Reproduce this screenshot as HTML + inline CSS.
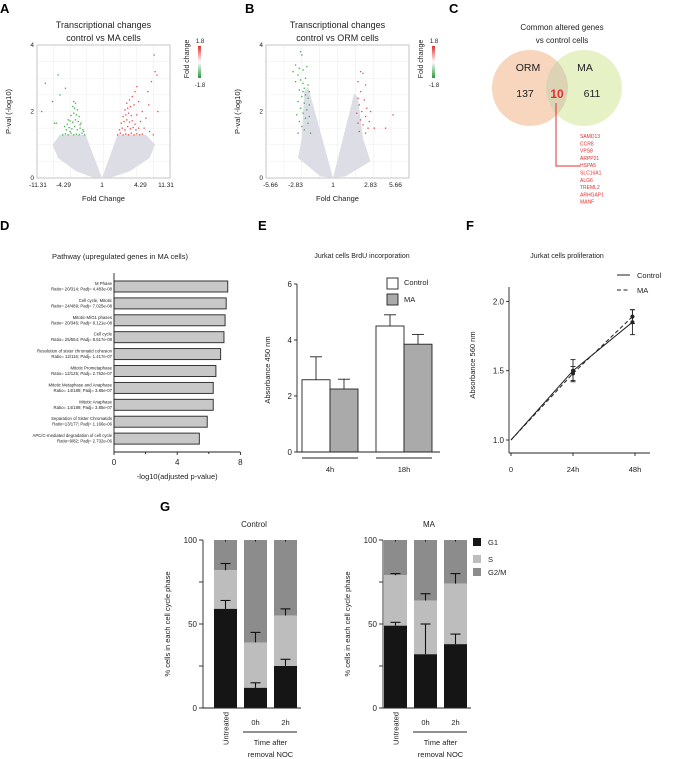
<!DOCTYPE html>
<html><head><meta charset="utf-8">
<style>
html,body{margin:0;padding:0;background:#fff;}
svg{display:block;font-family:"Liberation Sans",Arial,sans-serif;}
</style></head>
<body>
<svg id="fig" width="673" height="759" viewBox="0 0 673 759" xmlns="http://www.w3.org/2000/svg">
<defs>
<linearGradient id="cbar" x1="0" y1="0" x2="0" y2="1">
<stop offset="0" stop-color="#e03030"/><stop offset="0.5" stop-color="#ffffff"/><stop offset="1" stop-color="#2a9a3a"/>
</linearGradient>
</defs>
<g id="panelA"></g>
<g id="panelB"></g>
<g id="panelC"></g>
<g id="panelD"></g>
<g id="panelE"></g>
<g id="panelF"></g>
<g id="panelG"></g>
</svg>
<script>
// ---------- DATA ----------
const volTicksA = ["-11.31","-4.29","1","4.29","11.31"];
const volTickValsA = [-3.5,-2.1,0,2.1,3.5];
const volTicksB = ["-5.66","-2.83","1","2.83","5.66"];
const volTickValsB = [-2.5,-1.5,0,1.5,2.5];
const volAGreen = [[-0.95,1.3],[-1.1,1.35],[-1.25,1.3],[-1.4,1.32],[-1.55,1.3],[-1.7,1.35],[-1.85,1.3],[-2.0,1.33],[-2.15,1.3],[-1.05,1.45],[-1.2,1.5],[-1.35,1.45],[-1.5,1.55],[-1.65,1.48],[-1.8,1.52],[-1.95,1.45],[-1.15,1.65],[-1.3,1.7],[-1.45,1.75],[-1.6,1.68],[-1.75,1.72],[-1.9,1.62],[-1.25,1.85],[-1.4,1.9],[-1.55,1.95],[-1.7,1.88],[-1.35,2.05],[-1.5,2.1],[-1.6,2.15],[-1.45,2.25],[-1.55,2.3],[-1.0,1.4],[-1.2,1.6],[-1.75,1.4],[-2.05,1.55],[-1.85,1.75],[-2.6,1.65],[-2.7,2.3],[-2.0,2.7],[-2.4,3.1],[-2.3,2.5],[-3.1,2.85],[-3.3,2.0],[-2.5,1.65]];
const volARed = [[0.85,1.3],[1.0,1.35],[1.15,1.3],[1.3,1.32],[1.45,1.3],[1.6,1.35],[1.75,1.3],[1.9,1.33],[2.05,1.3],[2.2,1.32],[0.95,1.45],[1.1,1.5],[1.25,1.45],[1.4,1.55],[1.55,1.48],[1.7,1.52],[1.85,1.45],[2.0,1.5],[1.05,1.65],[1.2,1.7],[1.35,1.75],[1.5,1.68],[1.65,1.72],[1.8,1.62],[2.1,1.7],[1.15,1.85],[1.3,1.9],[1.45,1.95],[1.6,1.88],[1.9,1.9],[1.25,2.05],[1.4,2.1],[1.55,2.15],[1.75,2.2],[1.35,2.25],[1.5,2.35],[1.65,2.45],[2.0,2.3],[1.8,2.6],[1.9,2.75],[2.2,2.0],[2.4,1.8],[2.5,2.6],[2.3,1.5],[2.6,1.4],[2.85,3.7],[2.9,3.2],[3.0,3.1],[3.05,2.0],[2.8,1.3],[2.7,2.9],[2.55,2.2]];
const volBGreen = [[-1.3,3.8],[-1.25,3.7],[-1.5,3.4],[-1.35,3.3],[-1.2,3.25],[-1.4,3.1],[-1.1,3.0],[-1.3,2.95],[-1.5,2.9],[-1.2,2.85],[-1.0,2.8],[-1.15,2.7],[-1.35,2.65],[-0.95,2.6],[-1.1,2.5],[-1.25,2.45],[-1.0,2.4],[-1.4,2.3],[-1.15,2.25],[-0.95,2.2],[-1.3,2.1],[-1.05,2.05],[-1.2,1.95],[-1.45,1.9],[-0.95,1.85],[-1.1,1.8],[-1.35,1.7],[-1.0,1.65],[-1.25,1.55],[-1.15,1.45],[-1.4,1.35],[-0.9,1.35],[-1.6,3.2],[-1.05,3.35],[-1.2,2.6]];
const volBRed = [[1.1,3.2],[1.2,3.15],[1.0,2.9],[1.3,2.8],[1.1,2.6],[1.0,2.4],[1.25,2.35],[1.05,2.2],[1.35,2.1],[1.15,2.0],[0.95,1.95],[1.3,1.85],[1.1,1.75],[1.45,1.7],[1.0,1.65],[1.2,1.6],[1.4,1.5],[1.05,1.4],[1.3,1.35],[1.5,2.0],[2.4,1.9],[2.1,1.5],[1.65,1.5]];
const grayALeft = [[0,0],[-0.9,1.3],[-2.3,1.3],[-2.7,1.0],[-2.4,0.6],[-1.4,0.2],[-0.5,0.02]];
const grayARight = [[0,0],[0.85,1.3],[2.4,1.3],[2.9,1.0],[2.6,0.6],[1.5,0.2],[0.5,0.02]];
const grayBLeft = [[0,0],[-1.0,2.75],[-1.15,2.6],[-1.25,1.2],[-1.4,0.6],[-0.5,0.05]];
const grayBRight = [[0,0],[0.85,2.55],[1.0,2.4],[1.2,1.2],[1.5,0.5],[0.5,0.05]];

const vennLabels = ["ORM","MA"];
const vennCounts = [137,10,611];
const commonGenes = ["SAMD13","CCR8","VPS8","ARPP21","HSPA5","SLC16A1","ALG6","TREML2","ARHGAP1","MANF"];

const pathNames = ["M Phase","Cell cycle, Mitotic","Mitotic-M/G1 phases","Cell cycle","Resolution of sister chromatid cohesion","Mitotic Prometaphase","Mitotic Metaphase and Anaphase","Mitotic Anaphase","Separation of Sister Chromatids","APC/C-mediated degradation of cell cycle"];
const pathStats = ["Ratio= 20/314; Padj= 4.483e-08","Ratio= 24/489; Padj= 7.025e-08","Ratio= 20/346; Padj= 8.121e-08","Ratio= 25/554; Padj= 8.517e-08","Ratio= 12/116; Padj= 1.417e-07","Ratio= 12/125; Padj= 2.762e-07","Ratio= 14/189; Padj= 3.85e-07","Ratio= 14/189; Padj= 3.85e-07","Ratio=13/177; Padj= 1.166e-06","Ratio=9/82; Padj= 2.732e-06"];
const pathValues = [7.2,7.1,7.03,6.96,6.75,6.45,6.28,6.28,5.9,5.4];
const pathTicks = [0,4,8];

const brduGroups = ["4h","18h"];
const brduControl = [2.58,4.5];
const brduControlErr = [0.82,0.4];
const brduMA = [2.25,3.85];
const brduMAErr = [0.35,0.35];
const brduTicks = [0,2,4,6];

const profTimes = [0,24,47];
const profTickLabels = ["0","24h","48h"];
const profTickVals = [0,24,48];
const profControl = [1.0,1.50,1.85];
const profControlErr = [0,0.08,0.09];
const profMA = [1.0,1.48,1.89];
const profMAErr = [0,0.05,0.05];
const profTicks = [1.0,1.5,2.0];

const ccCategories = ["Untreated","0h","2h"];
const ccControlG1 = [59,12,25];
const ccControlG1Err = [5,3,4];
const ccControlS = [23,27,30];
const ccControlSErr = [4,6,4];
const ccMAG1 = [49,32,38];
const ccMAG1Err = [2,18,6];
const ccMAS = [30,32,36];
const ccMASErr = [1,4,6];
const ccTicks = [0,25,50,75,100];

// ---------- HELPERS ----------
const NS = "http://www.w3.org/2000/svg";
function mk(tag, attrs, parent){
  const el = document.createElementNS(NS, tag);
  for (const k in attrs) el.setAttribute(k, attrs[k]);
  parent.appendChild(el);
  return el;
}
function txt(parent, x, y, s, size, anchor, extra){
  const a = {x:x, y:y, 'font-size':size, 'text-anchor':anchor||'middle', fill:'#222'};
  if (extra) for (const k in extra) a[k]=extra[k];
  const t = mk('text', a, parent);
  t.textContent = s;
  return t;
}
const svg = document.getElementById('fig');
function letter(s,x,y){
  const t = txt(svg, x, y, s, 13, 'start', {'font-weight':'bold', fill:'#000'});
  
  
}
letter('A',0,13); letter('B',245,13); letter('C',449,13);
letter('D',0,230); letter('E',258,230); letter('F',466,230); letter('G',160,511);

// ---------- VOLCANO ----------
function volcano(g, cfg){
  const x = v => cfg.x0 + v*cfg.sx;
  const y = p => cfg.yb - p*(cfg.yb-cfg.yt)/4;
  for (let i=0;i<=8;i++){
    const gx = cfg.left + (cfg.right-cfg.left)*i/8;
    mk('line',{x1:gx,y1:cfg.yt,x2:gx,y2:cfg.yb,stroke:'#eeeeee','stroke-width':0.6},g);
    const gy = cfg.yt + (cfg.yb-cfg.yt)*i/8;
    mk('line',{x1:cfg.left,y1:gy,x2:cfg.right,y2:gy,stroke:'#eeeeee','stroke-width':0.6},g);
  }
  const box = mk('rect',{x:cfg.left,y:cfg.yt,width:cfg.right-cfg.left,height:cfg.yb-cfg.yt,fill:'none',stroke:'#bbbbbb','stroke-width':0.8},g);
  
  
  [cfg.grayL, cfg.grayR].forEach((poly,i)=>{
    const p = mk('polygon',{points:poly.map(d=>x(d[0])+','+y(d[1])).join(' '),fill:'#dcdde5'},g);
    
    
  });
  cfg.green.forEach(d=>{
    const c = mk('rect',{x:x(d[0])-0.6,y:y(d[1])-0.6,width:1.3,height:1.3,fill:'#3aaa48'},g);
    
    
  });
  cfg.red.forEach(d=>{
    const c = mk('rect',{x:x(d[0])-0.6,y:y(d[1])-0.6,width:1.3,height:1.3,fill:'#ee4444'},g);
    
    
  });
  cfg.ticks.forEach((s,i)=>{
    const t = txt(g, x(cfg.tickVals[i]), cfg.yb+9, s, 6.5);
    
    
  });
  [0,2,4].forEach(v=>{
    const t = txt(g, cfg.left-3, y(v)+2, String(v), 6.5, 'end');
    
    
  });
  const xt = txt(g,(cfg.left+cfg.right)/2, cfg.yb+23, 'Fold Change', 7.5);
  
  
  const yt = txt(g, 0,0,'P-val (-log10)',7.5,'middle',{transform:'translate('+(cfg.left-26)+','+((cfg.yt+cfg.yb)/2)+') rotate(-90)'});
  
  
  const t1 = txt(g,(cfg.left+cfg.right)/2,28,'Transcriptional changes',9);
  
  
  const t2 = txt(g,(cfg.left+cfg.right)/2,41,cfg.title2,9);
  
  
  const cb = mk('rect',{x:cfg.cbx,y:46,width:3,height:32,fill:'url(#cbar)'},g);
  
  
  txt(g,cfg.cbx+2,43,'1.8',6);
  txt(g,cfg.cbx+2,87,'-1.8',6);
  const cl = txt(g,0,0,'Fold change',7,'middle',{transform:'translate('+(cfg.cbx-9)+',59) rotate(-90)'});
  
  
}
volcano(document.getElementById('panelA'),{left:37,right:170,yt:45,yb:178,x0:102,sx:18.3,grayL:grayALeft,grayR:grayARight,green:volAGreen,red:volARed,ticks:volTicksA,tickVals:volTickValsA,title2:'control vs MA cells',cbx:198});
volcano(document.getElementById('panelB'),{left:266,right:409,yt:45,yb:178,x0:333,sx:25,grayL:grayBLeft,grayR:grayBRight,green:volBGreen,red:volBRed,ticks:volTicksB,tickVals:volTickValsB,title2:'control vs ORM cells',cbx:432});

// ---------- VENN ----------
(function(){
  const g = document.getElementById('panelC');
  const t1 = txt(g,562,30,'Common altered genes',8);
  
  
  txt(g,562,43,'vs control cells',8);
  const c1 = mk('circle',{cx:530,cy:88,r:38,fill:'#f7d6bd'},g);
  
  
  const c2 = mk('circle',{cx:584,cy:88,r:38,fill:'#e6f2c6'},g);
  
  
  const ov = mk('path',{d:'M557,61.3 A38,38 0 0 1 557,114.7 A38,38 0 0 1 557,61.3 Z',fill:'#dcd3b4'},g);
  
  
  txt(g,528,71,vennLabels[0],10.5);
  txt(g,585,71,vennLabels[1],10.5);
  txt(g,525,97,String(vennCounts[0]),10.5);
  const mid = txt(g,557,98,String(vennCounts[1]),12,'middle',{fill:'#e03030','font-weight':'bold'});
  
  
  txt(g,592,97,String(vennCounts[2]),10.5);
  mk('polyline',{points:'556,103 556,166 580,166',fill:'none',stroke:'#e03030','stroke-width':1},g);
  commonGenes.forEach((s,i)=>{
    const t = txt(g,580,138+i*7.3,s,5,'start',{fill:'#e03030'});
    
    
  });
})();

// ---------- PATHWAY BARS ----------
(function(){
  const g = document.getElementById('panelD');
  const x0=114, sx=15.8, top=281, step=16.9, bh=11;
  const x = v => x0 + v*sx;
  const t = txt(g,120,259,'Pathway (upregulated genes in MA cells)',7.5);
  
  
  pathValues.forEach((v,i)=>{
    const yc = top + i*step + bh/2;
    const r = mk('rect',{x:x0,y:yc-bh/2,width:x(v)-x0,height:bh,fill:'#c8c8c8',stroke:'#222','stroke-width':0.9},g);
    
    
    txt(g,x0-2,yc-1.5,pathNames[i],4.3,'end');
    txt(g,x0-2,yc+4,pathStats[i],4.3,'end');
  });
  mk('line',{x1:x0,y1:273,x2:x0,y2:452,stroke:'#222','stroke-width':0.9},g);
  mk('line',{x1:x0,y1:452,x2:x(8),y2:452,stroke:'#222','stroke-width':0.9},g);
  pathTicks.forEach(v=>{
    mk('line',{x1:x(v),y1:452,x2:x(v),y2:455,stroke:'#222','stroke-width':0.9},g);
    const tl = txt(g,x(v),465,String(v),8);
    
    
  });
  mk('line',{x1:x(2),y1:452,x2:x(2),y2:454,stroke:'#222','stroke-width':0.9},g);
  mk('line',{x1:x(6),y1:452,x2:x(6),y2:454,stroke:'#222','stroke-width':0.9},g);
  const xt = txt(g,x(4),479,'-log10(adjusted p-value)',7.5);
  
  
})();

// ---------- BRDU BARS ----------
(function(){
  const g = document.getElementById('panelE');
  const x0=297, yb=452, sy=28;
  const y = v => yb - v*sy;
  const t = txt(g,362,258,'Jurkat cells BrdU incorporation',7);
  
  
  const gx = [302,376], bw=28;
  brduGroups.forEach((lab,i)=>{
    [[brduControl,brduControlErr,'#ffffff',0,'control-bar'],[brduMA,brduMAErr,'#aaaaaa',1,'ma-bar']].forEach(s=>{
      const bx = gx[i]+s[3]*bw;
      const val = s[0][i], er = s[1][i];
      mk('line',{x1:bx+bw/2,y1:y(val),x2:bx+bw/2,y2:y(val+er),stroke:'#222','stroke-width':0.9},g);
      mk('line',{x1:bx+bw/2-6,y1:y(val+er),x2:bx+bw/2+6,y2:y(val+er),stroke:'#222','stroke-width':0.9},g);
      const r = mk('rect',{x:bx,y:y(val),width:bw,height:yb-y(val),fill:s[2],stroke:'#222','stroke-width':0.9},g);
      
      
    });
    mk('line',{x1:gx[i],y1:458,x2:gx[i]+2*bw,y2:458,stroke:'#222','stroke-width':0.9},g);
    const tl = txt(g,gx[i]+bw,472,lab,7.5);
    
    
  });
  mk('line',{x1:x0,y1:y(6),x2:x0,y2:yb,stroke:'#222','stroke-width':0.9},g);
  mk('line',{x1:x0,y1:yb,x2:440,y2:yb,stroke:'#222','stroke-width':0.9},g);
  brduTicks.forEach(v=>{
    mk('line',{x1:x0-3,y1:y(v),x2:x0,y2:y(v),stroke:'#222','stroke-width':0.9},g);
    const tl = txt(g,x0-5,y(v)+3,String(v),8,'end');
    
    
  });
  const yt = txt(g,0,0,'Absorbance 450 nm',7.5,'middle',{transform:'translate(270,370) rotate(-90)'});
  
  
  const l1 = mk('rect',{x:387,y:278,width:11,height:11,fill:'#fff',stroke:'#222','stroke-width':0.9},g);
  
  
  const l2 = mk('rect',{x:387,y:294,width:11,height:11,fill:'#aaa',stroke:'#222','stroke-width':0.9},g);
  
  
  txt(g,404,285,'Control',7.5,'start');
  txt(g,404,302,'MA',7.5,'start');
})();

// ---------- PROLIFERATION ----------
(function(){
  const g = document.getElementById('panelF');
  const x0=511, sx=(635-511)/48, yb0=440, sy=138.6;
  const x = t => x0 + t*sx;
  const y = v => yb0 - (v-1)*sy;
  const t = txt(g,567,258,'Jurkat cells proliferation',7);
  
  
  mk('line',{x1:509,y1:287,x2:509,y2:453,stroke:'#222','stroke-width':0.9},g);
  mk('line',{x1:509,y1:453,x2:650,y2:453,stroke:'#222','stroke-width':0.9},g);
  profTicks.forEach(v=>{
    mk('line',{x1:506,y1:y(v),x2:509,y2:y(v),stroke:'#222','stroke-width':0.9},g);
    const tl = txt(g,504,y(v)+3,v.toFixed(1),8,'end');
    
    
  });
  profTickVals.forEach((v,i)=>{
    mk('line',{x1:x(v),y1:453,x2:x(v),y2:456,stroke:'#222','stroke-width':0.9},g);
    const tl = txt(g,x(v),472,profTickLabels[i],7.5);
    
    
  });
  [[profControl,profControlErr,'','control-line'],[profMA,profMAErr,'4,2.5','ma-line']].forEach(s=>{
    const pl = mk('polyline',{points:profTimes.map((tm,i)=>x(tm)+','+y(s[0][i])).join(' '),fill:'none',stroke:'#222','stroke-width':1,'stroke-dasharray':s[2]||'none'},g);
    
    
    profTimes.forEach((tm,i)=>{
      if (i===0) return;
      const v=s[0][i], e=s[1][i];
      mk('line',{x1:x(tm),y1:y(v-e),x2:x(tm),y2:y(v+e),stroke:'#222','stroke-width':0.9},g);
      mk('line',{x1:x(tm)-2.5,y1:y(v-e),x2:x(tm)+2.5,y2:y(v-e),stroke:'#222','stroke-width':0.9},g);
      mk('line',{x1:x(tm)-2.5,y1:y(v+e),x2:x(tm)+2.5,y2:y(v+e),stroke:'#222','stroke-width':0.9},g);
      const c = mk('circle',{cx:x(tm),cy:y(v),r:2,fill:'#222'},g);
      
      
    });
  });
  const yt = txt(g,0,0,'Absorbance 560 nm',7.5,'middle',{transform:'translate(475,365) rotate(-90)'});
  
  
  mk('line',{x1:617,y1:275,x2:630,y2:275,stroke:'#222','stroke-width':1},g);
  mk('line',{x1:617,y1:290,x2:630,y2:290,stroke:'#222','stroke-width':1,'stroke-dasharray':'4,2.5'},g);
  const lc = txt(g,637,278,'Control',7.5,'start');
  
  
  const lm = txt(g,637,293,'MA',7.5,'start');
  
  
})();

// ---------- CELL CYCLE ----------
function cellCycle(g, ax, bars, title, G1, G1e, S, Se){
  const yb=708, sy=(708-540)/100;
  const y = v => yb - v*sy;
  const tt = txt(g,(ax+bars[2]+23)/2+4,527,title,8);
  
  
  ccCategories.forEach((c,i)=>{
    const bx=bars[i], bw=23;
    const g1=G1[i], s=S[i];
    const r3 = mk('rect',{x:bx,y:y(100),width:bw,height:y(g1+s)-y(100),fill:'#8c8c8c'},g);
    
    
    const r2 = mk('rect',{x:bx,y:y(g1+s),width:bw,height:y(g1)-y(g1+s),fill:'#bdbdbd'},g);
    
    
    const r1 = mk('rect',{x:bx,y:y(g1),width:bw,height:yb-y(g1),fill:'#151515'},g);
    
    
    const cx=bx+bw/2;
    [[g1,G1e[i]],[g1+s,Se[i]]].forEach(e=>{
      mk('line',{x1:cx,y1:y(e[0]),x2:cx,y2:y(e[0]+e[1]),stroke:'#111','stroke-width':1.1},g);
      mk('line',{x1:cx-5,y1:y(e[0]+e[1]),x2:cx+5,y2:y(e[0]+e[1]),stroke:'#111','stroke-width':1.1},g);
    });
    mk('line',{x1:cx,y1:y(100),x2:cx,y2:y(100)+1.5,stroke:'#111','stroke-width':1},g);
    if (i===0){
      const tl = txt(g,0,0,c,7.5,'end',{transform:'translate('+(cx+3)+',712) rotate(-90)'});
      
      
    } else {
      const tl = txt(g,cx,725,c,7.5);
      
      
    }
  });
  mk('line',{x1:ax,y1:y(100),x2:ax,y2:yb,stroke:'#222','stroke-width':0.9},g);
  mk('line',{x1:ax,y1:yb,x2:bars[2]+27,y2:yb,stroke:'#222','stroke-width':0.9},g);
  ccTicks.forEach(v=>{
    mk('line',{x1:ax-4,y1:y(v),x2:ax,y2:y(v),stroke:'#222','stroke-width':0.9},g);
    if (v%50===0){
      const tl = txt(g,ax-6,y(v)+3,String(v),8,'end');
      
      
    }
  });
  mk('line',{x1:bars[1]-1,y1:732,x2:bars[2]+23,y2:732,stroke:'#222','stroke-width':0.9},g);
  txt(g,(bars[1]+bars[2]+23)/2,745,'Time after',7.5);
  txt(g,(bars[1]+bars[2]+23)/2,757,'removal NOC',7.5);
  const yt = txt(g,0,0,'% cells in each cell cycle phase',7.5,'middle',{transform:'translate('+(ax-33)+',624) rotate(-90)'});
  
  
}
(function(){
  const g = document.getElementById('panelG');
  const gc = mk('g',{},g);
  
  
  cellCycle(gc,203,[214,244,274],'Control',ccControlG1,ccControlG1Err,ccControlS,ccControlSErr);
  const gm = mk('g',{},g);
  
  
  cellCycle(gm,383,[384,414,444],'MA',ccMAG1,ccMAG1Err,ccMAS,ccMASErr);
  [['G1','#151515',538],['S','#bdbdbd',555],['G2/M','#8c8c8c',568]].forEach(l=>{
    const r = mk('rect',{x:473,y:l[2],width:8,height:8,fill:l[1]},g);
    
    
    txt(g,488,l[2]+7,l[0],7.5,'start');
  });
})();
</script>
</body></html>
